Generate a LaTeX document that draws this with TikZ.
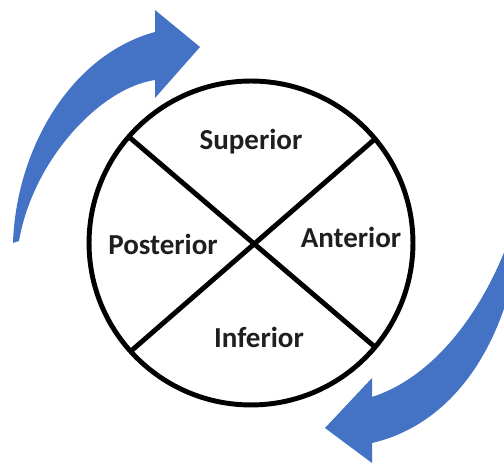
\documentclass[tikz,border=0pt]{standalone}
\usepackage{fontspec}
\setmainfont{Carlito}
\definecolor{cycleblue}{RGB}{68,114,196}
\begin{document}
\begin{tikzpicture}[
  x=0.02cm, y=-0.02cm,
  lbl/.style={font=\bfseries\fontsize{16.5}{19}\selectfont, text=black!88, inner sep=1pt},
  ring/.style={circle, draw=black, line width=2.8pt, minimum size=6.48cm, outer sep=0pt, inner sep=0pt},
  band/.style={fill=cycleblue, draw=none}
]
  \useasboundingbox (0,0) rectangle (504,465);
  \clip (0,0) rectangle (504,465);
  % upper left arrow, pointing right
  \fill[band] (13,243) .. controls (16,150) and (70,55) .. (155,32)
    -- (155,10) -- (200,47) -- (155,98) -- (155,80)
    .. controls (100,88) and (33,160) .. (19,241) -- cycle;
  % lower right arrow, pointing left
  \fill[band] (514,225) .. controls (490,300) and (440,375) .. (372,397)
    -- (372,378) -- (325,428) -- (372,463) -- (372,443)
    .. controls (450,425) and (505,350) .. (520,240) -- cycle;
  % the wheel and its cross
  \node[ring] (wheel) at (251,243) {};
  \draw[line width=2.8pt] (wheel.139) -- (wheel.320);
  \draw[line width=2.8pt] (wheel.40) -- (wheel.222);
  % quarter labels
  \node[lbl] (sup) at (251,142) {Superior};
  \node[lbl] (post) at (163,244) {Posterior};
  \node[lbl] (ant) at (351,237) {Anterior};
  \node[lbl] (inf) at (259,337) {Inferior};
\end{tikzpicture}
\end{document}
